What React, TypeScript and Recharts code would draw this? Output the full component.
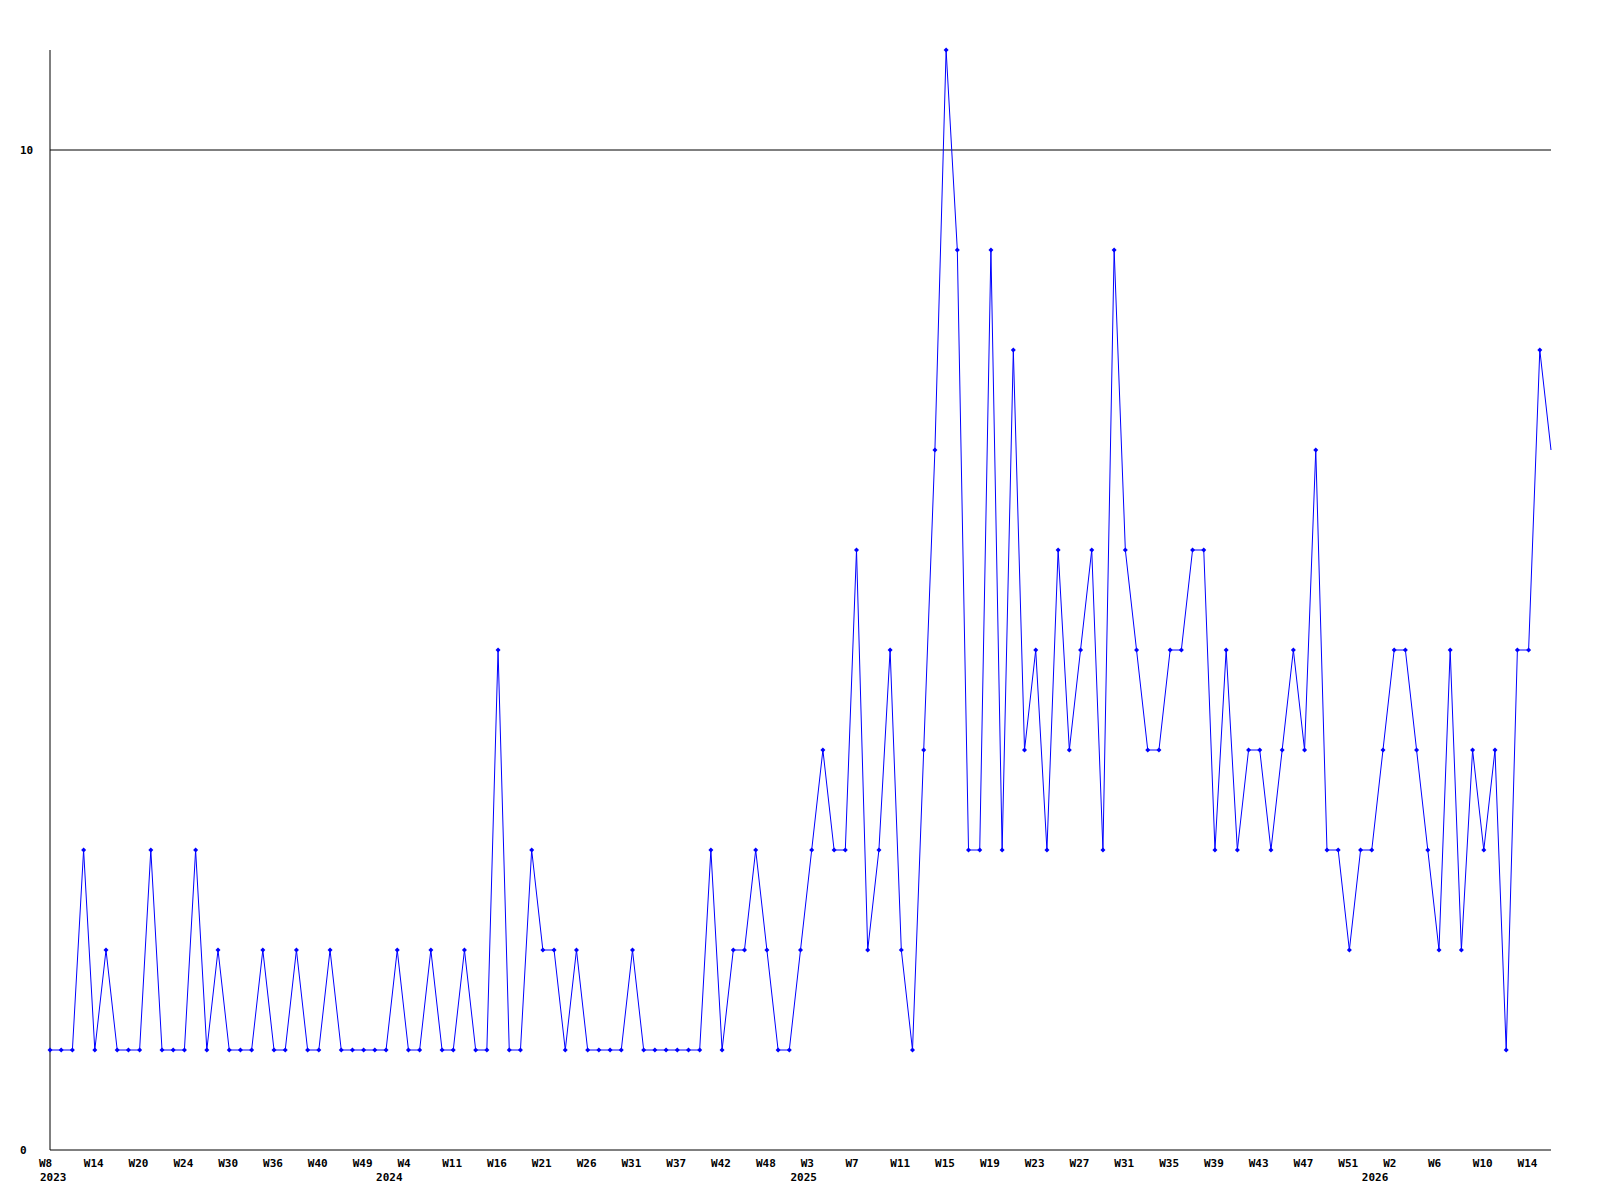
import { LineChart, Line, XAxis, YAxis, ReferenceLine } from 'recharts';

// weekly counts, one per point (some weeks are missing in the source, so the axis is by index)
const values = [
  1, 1, 1, 3, 1, 2, 1, 1, 1, 3, 1, 1, 1, 3, 1, 2, 1, 1,
  1, 2, 1, 1, 2, 1, 1, 2, 1, 1, 1, 1, 1, 2, 1, 1, 2,
  1, 1, 2, 1, 1, 5, 1, 1, 3, 2, 2, 1, 2, 1, 1, 1, 1,
  2, 1, 1, 1, 1, 1, 1, 3, 1, 2, 2, 3, 2, 1, 1, 2,
  3, 4, 3, 3, 6, 2, 3, 5, 2, 1, 4, 7, 11, 9, 3, 3, 9,
  3, 8, 4, 5, 3, 6, 4, 5, 6, 3, 9, 6, 5, 4, 4, 5, 5,
  6, 6, 3, 5, 3, 4, 4, 3, 4, 5, 4, 7, 3, 3, 2, 3, 3,
  4, 5, 5, 4, 3, 2, 5, 2, 4, 3, 4, 1, 5, 5, 8, 7,
];

// a week label sits under every 4th point
const weekLabels = [
  'W8', 'W14', 'W20', 'W24', 'W30', 'W36', 'W40', 'W49',
  'W4', 'W11', 'W16', 'W21', 'W26', 'W31', 'W37', 'W42', 'W48',
  'W3', 'W7', 'W11', 'W15', 'W19', 'W23', 'W27', 'W31', 'W35', 'W39', 'W43', 'W47', 'W51',
  'W2', 'W6', 'W10', 'W14',
];
const WEEK_STEP = 4;

const yearLabels = ['2023', '2024', '2025', '2026'];
const yearStartIndex = [0, 30, 67, 118];

const yTicks = [0, 10];
const GRID_VALUE = 10;

const FONT = '"DejaVu Sans Mono", monospace';

const data = values.map((value, i) => ({ i, value }));

const weekTickIndex = weekLabels.map((_, k) => k * WEEK_STEP);
const allTicks = Array.from(new Set([...weekTickIndex, ...yearStartIndex])).sort((a, b) => a - b);

function XTick(props: any) {
  const { x, y, payload } = props;
  const idx = payload.value as number;
  const w = idx % WEEK_STEP === 0 ? weekLabels[idx / WEEK_STEP] : undefined;
  const yi = yearStartIndex.indexOf(idx);
  return (
    <g>
      {w && (
        <text x={x - 11} y={y + 17} fontFamily={FONT} fontWeight="bold" fontSize={11} fill="#000" textAnchor="start">
          {w}
        </text>
      )}
      {yi >= 0 && (
        <text x={x - 10} y={y + 31} fontFamily={FONT} fontWeight="bold" fontSize={11} fill="#000" textAnchor="start">
          {yearLabels[yi]}
        </text>
      )}
    </g>
  );
}

function YTick(props: any) {
  const { x, y, payload } = props;
  return (
    <text x={x - 30} y={y + 4} fontFamily={FONT} fontWeight="bold" fontSize={11} fill="#000" textAnchor="start">
      {payload.value}
    </text>
  );
}

function Marker(props: any) {
  const { cx, cy, index } = props;
  if (index === values.length - 1 || cx == null) return <g key={`d-${index}`} />;
  const r = 2.5;
  return (
    <path
      key={`d-${index}`}
      d={`M${cx},${cy - r}L${cx + r},${cy}L${cx},${cy + r}L${cx - r},${cy}Z`}
      fill="#0000ff"
      stroke="none"
    />
  );
}

export default function App() {
  return (
    <div style={{ position: 'absolute', left: 0, top: 0, background: '#fff' }}>
      <LineChart width={1600} height={1200} data={data} margin={{ top: 50, right: 49, left: 0, bottom: 0 }}>
        <XAxis
          dataKey="i"
          type="number"
          domain={[0, values.length - 1]}
          ticks={allTicks}
          interval={0}
          height={50}
          tickLine={false}
          tickSize={0}
          tickMargin={0}
          axisLine={{ stroke: '#000' }}
          tick={<XTick />}
        />
        <YAxis
          type="number"
          domain={[0, 11]}
          ticks={yTicks}
          width={50}
          tickLine={false}
          tickSize={0}
          tickMargin={0}
          axisLine={{ stroke: '#000' }}
          tick={<YTick />}
        />
        <ReferenceLine y={GRID_VALUE} stroke="#000" strokeWidth={1} />
        <Line
          type="linear"
          dataKey="value"
          stroke="#0000ff"
          strokeWidth={1}
          dot={Marker}
          activeDot={false}
          isAnimationActive={false}
        />
      </LineChart>
    </div>
  );
}
